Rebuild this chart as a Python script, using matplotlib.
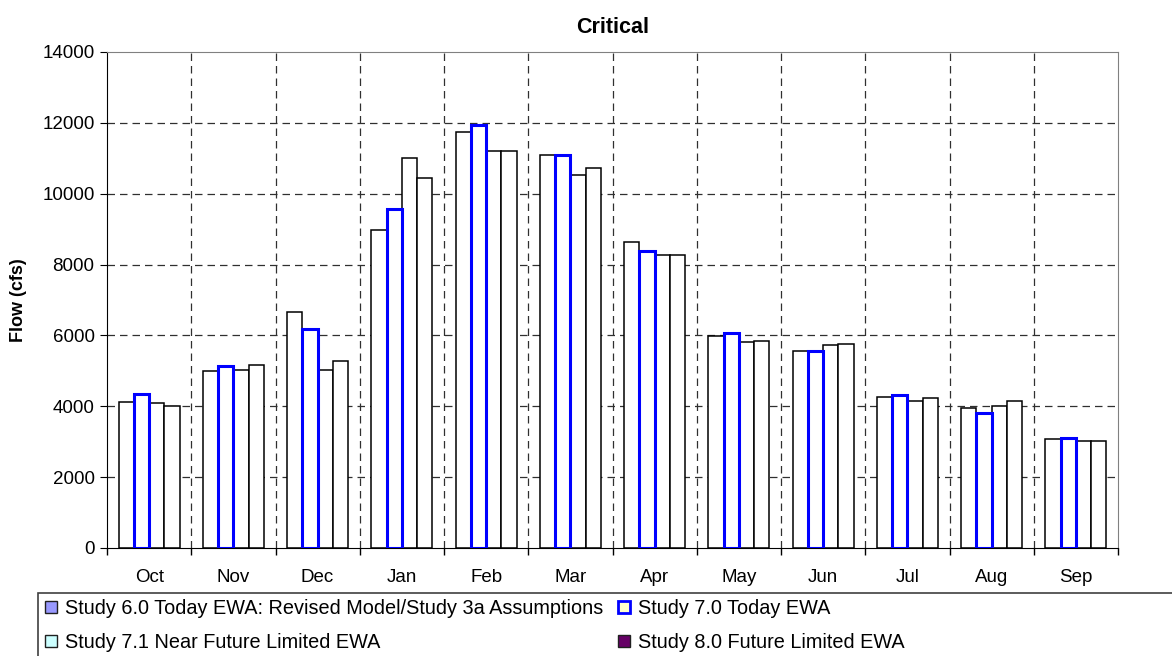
import numpy as np
import matplotlib
matplotlib.use("Agg")
import matplotlib.pyplot as plt
from matplotlib.lines import Line2D
from matplotlib.patches import Rectangle

plt.rcParams['font.family'] = ['Liberation Sans', 'DejaVu Sans']

months = ['Oct', 'Nov', 'Dec', 'Jan', 'Feb', 'Mar', 'Apr', 'May', 'Jun', 'Jul', 'Aug', 'Sep']

# Flow (cfs) per study
study_60 = [4120, 5000, 6650, 8970, 11750, 11100, 8650, 5990, 5550, 4270, 3960, 3070]
study_70 = [4340, 5130, 6180, 9560, 11930, 11100, 8390, 6070, 5550, 4320, 3800, 3110]
study_71 = [4080, 5030, 5030, 11020, 11200, 10540, 8260, 5810, 5730, 4140, 4000, 3020]
study_80 = [4000, 5160, 5280, 10450, 11200, 10720, 8260, 5850, 5770, 4220, 4140, 3020]

labels = ['Study 6.0 Today EWA: Revised Model/Study 3a Assumptions',
          'Study 7.0 Today EWA',
          'Study 7.1 Near Future Limited EWA',
          'Study 8.0 Future Limited EWA']

fig = plt.figure(figsize=(11.72, 6.56), dpi=100)
ax = fig.add_axes([107 / 1172, 1 - 548 / 656, (1118 - 107) / 1172, (548 - 52) / 656])

x = np.arange(len(months)) + 0.5
w = 0.181
ax.bar(x - 1.5 * w, study_60, w, facecolor='white', edgecolor='black', linewidth=1.1, zorder=2)
ax.bar(x + 0.5 * w, study_71, w, facecolor='white', edgecolor='black', linewidth=1.1, zorder=2)
ax.bar(x + 1.5 * w, study_80, w, facecolor='white', edgecolor='black', linewidth=1.1, zorder=2)
ax.bar(x - 0.5 * w, study_70, w, facecolor='white', edgecolor='#0000ff', linewidth=2.2, zorder=3)

ax.set_xlim(0, 12)
ax.set_ylim(0, 14000)
ax.set_yticks(np.arange(0, 14001, 2000))
ax.set_xticks(np.arange(0, 13))
ax.set_xticklabels([])
ax.set_xticks(x, minor=True)
ax.set_xticklabels(months, minor=True, fontsize=13.5)
ax.tick_params(axis='x', which='minor', length=0, pad=15)
ax.tick_params(axis='x', which='major', length=5, direction='out', width=1)
ax.tick_params(axis='y', length=5, direction='out', labelsize=13.5, pad=4)

for yv in range(2000, 14000, 2000):
    ax.axhline(yv, color='#303030', linewidth=0.9, dashes=(6, 4), zorder=1)
for xv in range(1, 12):
    ax.axvline(xv, color='#303030', linewidth=0.9, dashes=(6, 4), zorder=1)

ax.spines['top'].set_color('#808080')
ax.spines['right'].set_color('#808080')
ax.spines['left'].set_color('black')
ax.spines['bottom'].set_color('black')

ax.set_title('Critical', fontsize=15.5, fontweight='bold', pad=14)
ax.set_ylabel('Flow (cfs)', fontsize=13, fontweight='bold', labelpad=11)

handles = [
    Line2D([], [], linestyle='none', marker='s', markersize=8, markerfacecolor='#9999ff',
           markeredgecolor='#202020', markeredgewidth=1),
    Line2D([], [], linestyle='none', marker='s', markersize=8, markerfacecolor='#ffffcc',
           markeredgecolor='#0000ff', markeredgewidth=2),
    Line2D([], [], linestyle='none', marker='s', markersize=8, markerfacecolor='#ccffff',
           markeredgecolor='#202020', markeredgewidth=1),
    Line2D([], [], linestyle='none', marker='s', markersize=8, markerfacecolor='#660066',
           markeredgecolor='#202020', markeredgewidth=1),
]
# order so that row 1 = 6.0, 7.0 and row 2 = 7.1, 8.0 (legend fills columns first)
order = [0, 2, 1, 3]
fig.legend([handles[i] for i in order], [labels[i] for i in order], ncol=2,
           loc='upper left', bbox_to_anchor=(42 / 1172, 1 - 597 / 656),
           frameon=False, fontsize=14.3, handlelength=0.7, handletextpad=0.35,
           columnspacing=0.7, labelspacing=0.75, borderpad=0.1, borderaxespad=0)

fig.patches.append(Rectangle((38 / 1172, -0.05), 1.2, 1 - 593 / 656 + 0.05,
                             transform=fig.transFigure, fill=False,
                             edgecolor='#404040', linewidth=1.2))

fig.savefig('out.png', dpi=100)
